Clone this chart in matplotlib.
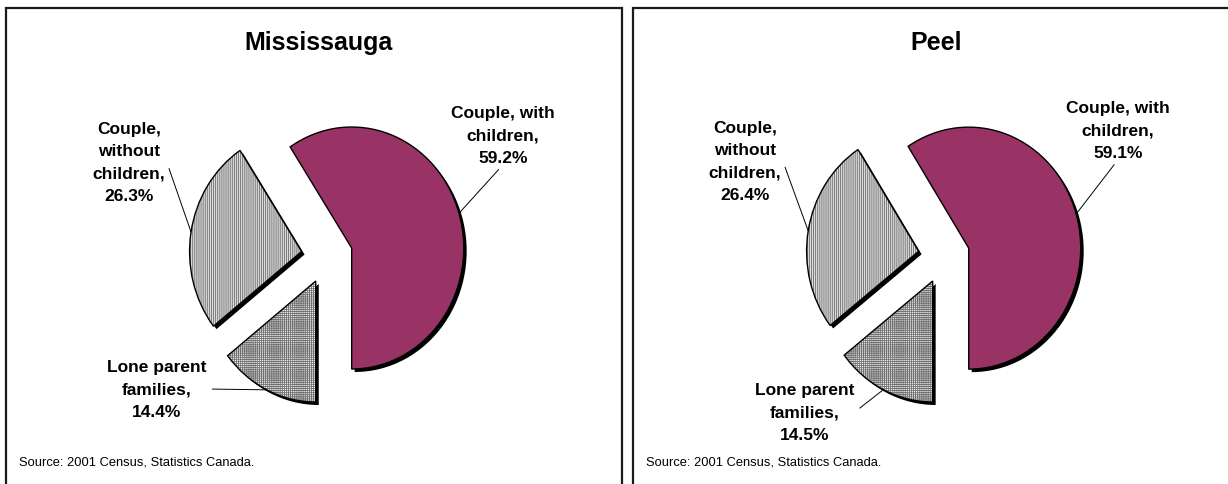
import matplotlib
matplotlib.use('Agg')
import numpy as np
import matplotlib.pyplot as plt
from matplotlib.patches import Rectangle

plt.rcParams['font.family'] = ['Liberation Sans', 'DejaVu Sans']
plt.rcParams['hatch.linewidth'] = 0.6

# ---- data ----
categories = ['Couple, with children', 'Lone parent families', 'Couple, without children']
label_text = ['Couple, with\nchildren,', 'Lone parent\nfamilies,', 'Couple,\nwithout\nchildren,']
mississauga = [59.2, 14.4, 26.3]
peel = [59.1, 14.5, 26.4]
titles = ['Mississauga', 'Peel']
source = 'Source: 2001 Census, Statistics Canada.'

# ---- style ----
W, H = 1228, 485
PURPLE = '#993366'
RX, RY = 112, 121
LIM = 1.6
EXPLODE = 0.23

fig = plt.figure(figsize=(W / 100, H / 100), dpi=100)

panels = [(6, 622), (633, 1245)]
for x0, x1 in panels:
    fig.patches.append(Rectangle((x0 / W, -0.1), (x1 - x0) / W, (H - 9) / H + 0.1,
                                 transform=fig.transFigure, fill=False,
                                 edgecolor='#1a1a1a', lw=1.6))


def pie_panel(values, title, panel_x0, cx, cy, title_x, label_pos, relpos):
    ax = fig.add_axes([(cx - LIM * RX) / W, (H - cy - LIM * RY) / H,
                       2 * LIM * RX / W, 2 * LIM * RY / H])
    start = -90 + 360 * values[0] / sum(values)
    common = dict(startangle=start, counterclock=False, explode=[EXPLODE] * 3, radius=1)
    # shadow
    ax.pie(values, colors=['black'] * 3, center=(3 / RX, -3 / RY),
           wedgeprops=dict(linewidth=0), **common)
    # fills
    wedges, _ = ax.pie(values, colors=[PURPLE, '#f4f4f4', '#dcdcdc'],
                       wedgeprops=dict(linewidth=0), **common)
    wedges[1].set_hatch('++++++++')
    wedges[1].set_edgecolor('#707070')
    wedges[1].set_linewidth(0)
    wedges[2].set_hatch('||||||||')
    wedges[2].set_edgecolor('#6a6a6a')
    wedges[2].set_linewidth(0)
    # outlines
    ax.pie(values, wedgeprops=dict(fill=False, edgecolor='black', linewidth=1.0), **common)

    for i, w in enumerate(wedges):
        mid = np.deg2rad((w.theta1 + w.theta2) / 2)
        anchor = (w.center[0] + w.r * np.cos(mid), w.center[1] + w.r * np.sin(mid))
        lx, ly = label_pos[i]
        ax.annotate(f'{label_text[i]}\n{values[i]:.1f}%', xy=anchor,
                    xytext=(lx, H - ly), textcoords='figure pixels',
                    ha='center', va='center', fontsize=12.5, fontweight='bold',
                    linespacing=1.6,
                    arrowprops=dict(arrowstyle='-', color='black', lw=0.7,
                                    relpos=relpos[i], shrinkA=2, shrinkB=0),
                    annotation_clip=False)

    ax.set_xlim(-LIM, LIM)
    ax.set_ylim(-LIM, LIM)
    ax.set_aspect('auto')
    ax.axis('off')

    fig.text(title_x / W, (H - 43) / H, title, ha='center', va='center',
             fontsize=18, fontweight='bold')
    fig.text((panel_x0 + 13) / W, (H - 463) / H, source, ha='left', va='center',
             fontsize=9.3)


pie_panel(mississauga, titles[0], 6, 327, 257, 318,
          [(503, 136), (157, 390), (129, 163)],
          [(0.5, 0.0), (1.0, 0.5), (1.0, 0.55)])
pie_panel(peel, titles[1], 633, 944, 257, 936,
          [(1118, 131), (805, 413), (745, 162)],
          [(0.5, 0.0), (1.0, 0.5), (1.0, 0.55)])

fig.savefig('out.png', dpi=100)
